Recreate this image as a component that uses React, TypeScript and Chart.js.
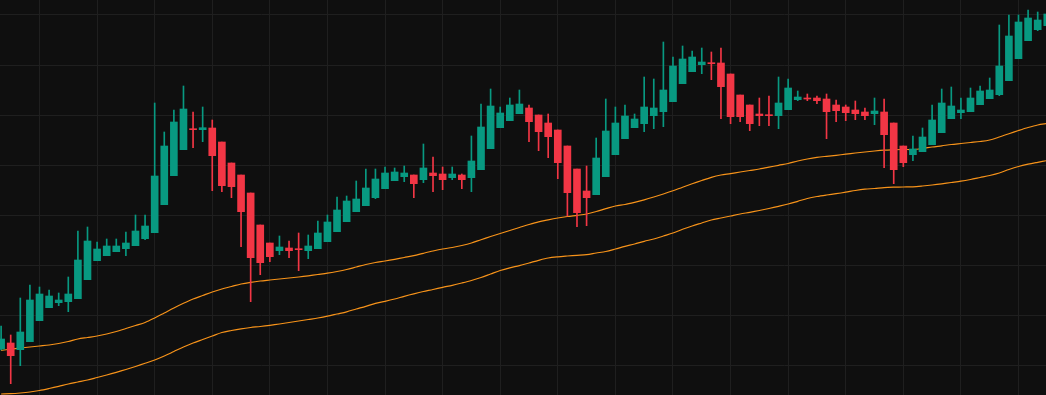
import React, { useEffect, useRef } from "react";
import { Chart, registerables } from "chart.js";

Chart.register(...registerables);

const opens = [
  116, 122, 115.3, 123.3, 144.3, 157.3, 162.3, 163.3, 166.3, 185.3,
  204.3, 209.3, 213.3, 216.3, 219.3, 226.3, 232.3, 260.3, 289.3, 315.3,
  336.3, 335.3, 337, 323, 302, 290, 272, 240, 222, 214.3,
  217, 216.3, 214.3, 216.3, 223.3, 233.3, 243.3, 253.3, 259.3, 267.3,
  276.3, 284.3, 288.3, 290, 285.3, 292, 291, 287.3, 290, 287.3,
  295.3, 316.3, 337.3, 344.3, 351.3, 357, 350, 342, 335, 319,
  296, 274, 270.3, 288.3, 310.3, 326.3, 337.3, 341.3, 349.3, 353.3,
  363.3, 381.3, 393.3, 400.3, 402, 402, 391, 370, 360, 351,
  350, 349.3, 355.3, 365.3, 367, 367, 366, 360, 358, 355,
  353, 351.3, 353, 342, 319, 310.3, 313.3, 320.3, 332.3, 346.3,
  352.3, 353.3, 360.3, 366.3, 370.3, 384.3, 406.3, 424.3, 435.3, 439.3,
];
const highs = [
  139, 130, 167, 180, 178, 175, 172, 188, 234, 238,
  223, 226, 226, 233, 250, 250, 362, 333, 355, 379,
  353, 358, 345, 323, 302, 290, 272, 240, 222, 229,
  224, 232, 230, 244, 250, 268, 269, 284, 296, 296,
  298, 297, 299, 290, 321, 308, 298, 298, 291, 329,
  361, 376, 358, 367, 375, 360, 350, 351, 335, 319,
  296, 299, 327, 366, 358, 360, 351, 388, 386, 423,
  408, 419, 414, 417, 413, 417, 391, 370, 360, 367,
  369, 388, 386, 374, 371, 369, 371, 365, 360, 364,
  357, 367, 366, 342, 319, 329, 337, 360, 376, 378,
  367, 377, 379, 387, 440, 450, 450, 455, 453, 455,
];
const lows = [
  115, 81.3, 99.3, 123.3, 144.3, 157.3, 159.3, 153.3, 166.3, 185.3,
  204.3, 209.3, 213.3, 209.3, 219.3, 225.3, 232.3, 260.3, 289.3, 315.3,
  317.3, 323.3, 274.3, 273.3, 267.3, 218.3, 163.3, 190.3, 203.3, 210.3,
  207.3, 194.3, 206.3, 216.3, 223.3, 233.3, 243.3, 253.3, 259.3, 266.3,
  276.3, 284.3, 283.3, 267.3, 282.3, 273.3, 275.3, 285.3, 276.3, 273.3,
  295.3, 316.3, 337.3, 344.3, 351.3, 323.3, 314.3, 307.3, 286.3, 249,
  238.3, 239.3, 270.3, 288.3, 310.3, 326.3, 337.3, 333.3, 336.3, 338.3,
  363.3, 381.3, 393.3, 391.3, 385.3, 346.3, 341.3, 343.3, 334.3, 339.3,
  339.3, 336.3, 355.3, 364.3, 364.3, 361.3, 326.3, 343.3, 344.3, 345.3,
  345.3, 340.3, 297.3, 281.3, 298.3, 304.3, 313.3, 320.3, 332.3, 346.3,
  346.3, 353.3, 360.3, 366.3, 369.3, 384.3, 406.3, 424.3, 434.3, 439.3,
];
const closes = [
  126, 109.3, 133, 165, 171, 169, 165, 171, 205, 224,
  216, 219, 219, 222, 234, 239, 289, 319, 343, 356,
  335.3, 337.3, 309.3, 279.3, 278.3, 253.3, 207.3, 202.3, 208.3, 218,
  214.3, 215.3, 219, 232, 243, 255, 264, 266, 277, 286,
  292, 293, 292, 281.3, 297, 289.3, 285.3, 291, 285.3, 304,
  338, 359, 352, 360, 361, 343.3, 333.3, 328.3, 302.3, 272.3,
  252.3, 267.3, 307, 334, 342, 349, 346, 358, 357, 375,
  399, 406, 408, 403, 401.3, 378.3, 348.3, 348.3, 341.3, 349.3,
  349.3, 362, 377, 368, 366, 364.3, 353.3, 354.3, 352.3, 351.3,
  349.3, 354, 330.3, 295.3, 302.3, 316, 328, 345, 362, 359,
  355, 367, 374, 375, 399, 429, 443, 447, 445, 451,
];
const maFast = [
  114.5, 116, 117, 118, 119, 120, 121.5, 123.5, 126, 127.5,
  129, 131, 133.5, 136.5, 139.5, 142.5, 147, 152, 157, 161.7,
  166, 169.5, 173, 176, 178.5, 181, 182.7, 184, 185, 186,
  187, 188, 189.2, 190.5, 191.8, 193.5, 195.5, 198, 200.5, 202.5,
  204, 205.7, 207.5, 209.3, 211.7, 214, 216, 217.5, 219.5, 222,
  225.3, 228.5, 231.5, 234.5, 237.5, 240.5, 243.2, 245.2, 247, 248.5,
  249.7, 251, 253.5, 256.3, 259, 260.5, 262.7, 265.2, 268, 271,
  274.2, 277.8, 281.2, 284.5, 287.7, 290, 291.4, 293, 294.5, 296,
  297.8, 299.7, 301.5, 304, 306, 307.6, 308.7, 309.7, 310.8, 312,
  313, 314, 314.8, 315.2, 315.5, 315.5, 316.5, 318, 319.2, 320.5,
  321.5, 322.5, 323.5, 325, 328, 331.3, 334.5, 337.5, 340, 341.5,
];
const maSlow = [
  71, 71.3, 72, 73, 74.5, 76.5, 78.7, 81, 83, 85,
  87.5, 90, 92.7, 95.5, 98.5, 101.7, 105, 109, 113.5, 118,
  122, 125.5, 129, 132.5, 134.5, 136.2, 137.5, 138.5, 139.7, 141,
  142.5, 144, 145.5, 147, 148.8, 151, 153.2, 156, 158.7, 161.7,
  163.7, 166, 168.7, 171.2, 173.5, 175.5, 177.7, 179.7, 182, 184.5,
  187.5, 191, 194.5, 197.2, 199.4, 202, 204.7, 207, 208.2, 209,
  209.7, 210.4, 212, 213.5, 216, 218.7, 221, 223.7, 226, 229,
  232, 235.7, 239, 242, 245, 247, 249, 251, 252.7, 254.5,
  256.5, 258.7, 261, 263.7, 266.5, 268.5, 270, 271.3, 272.8, 274.5,
  275.8, 276.5, 277.4, 277.8, 278, 278.2, 279, 280, 281.2, 282.5,
  283.8, 285.5, 287.5, 289.5, 292, 295.5, 298.5, 300.8, 302.7, 304.5,
];
const xGridTicks = [4, 10, 16, 22, 28, 34, 40, 46, 52, 58, 64, 70, 76, 82, 88, 94, 100, 106];
const yGridTicks = [100, 150, 200, 250, 300, 350, 400, 450];

const UP = "#089981";
const DOWN = "#f23645";
const MA_COLOR = "#f7931a";
const BG = "#0f0f0f";
const GRID = "#1f1f1f";

export default function App() {
  const ref = useRef<HTMLCanvasElement | null>(null);

  useEffect(() => {
    document.body.style.margin = "0";
    document.body.style.background = BG;
    const canvas = ref.current;
    if (!canvas) return;
    const colors = opens.map((o, i) => (closes[i] >= o ? UP : DOWN));
    const bodies = opens.map((o, i) => ({ x: i, y: [o, closes[i]] }));
    const wicks = lows.map((l, i) => ({ x: i, y: [l, highs[i]] }));
    const fast = maFast.map((v, i) => ({ x: i, y: v }));
    const slow = maSlow.map((v, i) => ({ x: i, y: v }));

    const chart = new Chart(canvas, {
      type: "bar",
      data: {
        datasets: [
          {
            type: "bar",
            data: bodies as any,
            backgroundColor: colors,
            borderWidth: 0,
            barThickness: 7,
            grouped: false,
            minBarLength: 1,
            order: 0,
          },
          {
            type: "bar",
            data: wicks as any,
            backgroundColor: colors,
            borderWidth: 0,
            barThickness: 1,
            grouped: false,
            order: 1,
          },
          {
            type: "line",
            data: fast as any,
            borderColor: MA_COLOR,
            borderWidth: 1.2,
            pointRadius: 0,
            tension: 0.3,
            order: 2,
          },
          {
            type: "line",
            data: slow as any,
            borderColor: MA_COLOR,
            borderWidth: 1.2,
            pointRadius: 0,
            tension: 0.3,
            order: 3,
          },
        ],
      },
      options: {
        animation: false,
        responsive: false,
        maintainAspectRatio: false,
        devicePixelRatio: 1,
        layout: { padding: 0 },
        plugins: { legend: { display: false }, tooltip: { enabled: false } },
        scales: {
          x: {
            type: "linear",
            min: -0.1155,
            max: 108.866,
            offset: false,
            border: { display: false },
            grid: { color: GRID, drawTicks: false, offset: false },
            ticks: { display: false },
            afterBuildTicks: (scale: any) => {
              scale.ticks = xGridTicks.map((v) => ({ value: v }));
            },
          },
          y: {
            type: "linear",
            min: 70,
            max: 465,
            border: { display: false },
            grid: { color: GRID, drawTicks: false },
            ticks: { display: false },
            afterBuildTicks: (scale: any) => {
              scale.ticks = yGridTicks.map((v) => ({ value: v }));
            },
          },
        },
      },
      plugins: [
        {
          id: "bg",
          beforeDraw: (c: any) => {
            const ctx = c.ctx;
            ctx.save();
            ctx.fillStyle = BG;
            ctx.fillRect(0, 0, c.width, c.height);
            ctx.restore();
          },
        },
      ],
    });
    return () => chart.destroy();
  }, []);

  return (
    <div style={{ width: 1046, height: 395, background: BG }}>
      <canvas ref={ref} width={1046} height={395} style={{ display: "block" }} />
    </div>
  );
}
